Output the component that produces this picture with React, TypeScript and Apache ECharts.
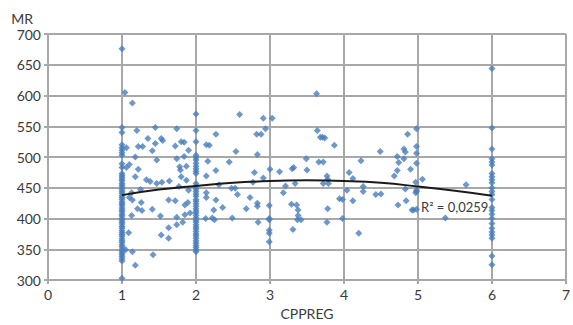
import React, { useEffect, useRef } from "react";
import * as echarts from "echarts";

// x = 1 column (CPPREG = 1)
const col1Values = [303, 331, 334, 338, 341, 344, 347, 350, 354, 357, 361, 364, 367, 371, 374, 377, 380, 384, 387, 391, 394, 397, 400, 404, 407, 411, 414, 417, 421, 424, 427, 431, 434, 437, 441, 444, 447, 451, 454, 457, 461, 464, 467, 470, 473, 483, 489, 503, 507, 511, 515, 520, 540, 548, 676];
// x = 2 column
const col2Values = [346, 349, 353, 356, 360, 364, 368, 372, 375, 379, 383, 386, 390, 394, 397, 401, 405, 409, 412, 416, 420, 424, 428, 431, 436, 440, 444, 448, 452, 457, 473, 477, 481, 485, 490, 495, 499, 503, 525, 543, 570];
// x = 6 column
const col6Values = [325, 339, 368, 373, 378, 384, 392, 400, 407, 413, 418, 431, 439, 444, 450, 458, 463, 468, 473, 487, 492, 497, 513, 547, 644];
// scattered points [CPPREG, MR]
const scatterPoints: [number, number][] = [
  [1.04, 605], [1.14, 588], [1.2, 543], [1.45, 548], [1.74, 546], [1.35, 530], [1.53, 530], [1.55, 527],
  [1.45, 522], [1.72, 518], [1.8, 525], [1.84, 524], [1.06, 515], [1.22, 517], [1.28, 517], [1.9, 511],
  [1.41, 510], [1.18, 500], [1.47, 495], [1.74, 497], [1.84, 501], [1.1, 488], [1.22, 480], [1.06, 483],
  [1.87, 485], [1.78, 484], [1.79, 479], [1.18, 468], [1.8, 468], [1.33, 463], [1.38, 460], [1.54, 459],
  [1.64, 461], [1.47, 457], [1.87, 462], [1.77, 452], [1.9, 446], [1.25, 447], [1.13, 442], [1.1, 434],
  [1.14, 430], [1.63, 430], [1.72, 429], [1.26, 426], [1.89, 426], [1.85, 422], [1.21, 416], [1.27, 413],
  [1.41, 415], [1.13, 405], [1.52, 404], [1.74, 402], [1.85, 406], [1.92, 409], [1.82, 394], [1.74, 390],
  [1.63, 385], [1.09, 377], [1.53, 373], [1.63, 368], [1.05, 349], [1.14, 346], [1.42, 341], [1.18, 324],
  [2.59, 569], [2.91, 563], [3.03, 563], [2.94, 546], [2.27, 537], [2.82, 537], [2.88, 537], [2.14, 520],
  [2.18, 519], [2.54, 509], [2.83, 504], [2.16, 493], [2.45, 492], [3.0, 480], [2.27, 478], [2.79, 475],
  [2.14, 469], [2.91, 466], [2.77, 459], [2.31, 455], [2.48, 449], [2.53, 449], [2.14, 442], [2.56, 439],
  [2.14, 434], [2.73, 434], [2.27, 430], [2.83, 425], [2.83, 420], [2.99, 421], [2.36, 418], [2.68, 416],
  [2.24, 414], [2.13, 400], [2.22, 401], [2.25, 398], [2.49, 401], [2.99, 398], [2.84, 394], [2.99, 381],
  [2.99, 376], [2.99, 362], [2.99, 400],
  [3.63, 603], [3.64, 543], [3.68, 532], [3.74, 531], [3.71, 532], [3.87, 519], [3.49, 497], [3.66, 492],
  [3.72, 492], [3.13, 476], [3.3, 481], [3.32, 483], [3.5, 479], [3.77, 469], [3.78, 464], [3.79, 457],
  [3.72, 457], [3.21, 453], [3.34, 457], [3.18, 442], [3.94, 432], [3.98, 431], [3.29, 423], [3.36, 422],
  [3.38, 414], [3.78, 416], [3.38, 405], [3.37, 398], [3.42, 398], [3.98, 400], [3.77, 394], [3.31, 382],
  [4.98, 546], [4.86, 537], [4.98, 517], [4.81, 513], [4.83, 508], [4.98, 506], [4.49, 509], [4.72, 501],
  [4.81, 497], [4.23, 494], [4.74, 491], [4.98, 490], [4.9, 480], [4.07, 475], [4.72, 478], [4.68, 469],
  [4.12, 465], [4.97, 459], [4.26, 452], [4.04, 446], [4.26, 444], [4.83, 448], [4.98, 446], [4.97, 442],
  [4.43, 439], [4.5, 440], [4.12, 429], [4.84, 429], [4.73, 422], [4.94, 414], [4.98, 415], [4.2, 376],
  [5.06, 464], [5.65, 455], [4.98, 444], [4.92, 414], [5.37, 401]
];
// polynomial trend line
const trendX = [1, 1.5, 2, 2.5, 3, 3.5, 4, 4.5, 5, 5.5, 6];
const trendY = [438, 447, 453, 458, 461, 462, 461, 458, 452, 445, 437];
const xTicks = [0, 1, 2, 3, 4, 5, 6, 7];
const yTicks = [300, 350, 400, 450, 500, 550, 600, 650, 700];
const rSquaredLabel = "R² = 0,0259";

export default function App() {
  const ref = useRef<HTMLDivElement>(null);
  useEffect(() => {
    if (!ref.current) return;
    const chart = echarts.init(ref.current, undefined, { renderer: "svg" });
    const points: [number, number][] = [
      ...col1Values.map((v) => [1, v] as [number, number]),
      ...col2Values.map((v) => [2, v] as [number, number]),
      ...col6Values.map((v) => [6, v] as [number, number]),
      ...scatterPoints,
    ];
    const font = "Lato, 'DejaVu Sans', sans-serif";
    const gridColor = "#a8a8a8";
    const labelColor = "#3a3a3a";
    chart.setOption({
      animation: false,
      backgroundColor: "#ffffff",
      textStyle: { fontFamily: font },
      grid: { left: 48, right: 2, top: 34, bottom: 39 },
      xAxis: {
        type: "value",
        min: xTicks[0],
        max: xTicks[xTicks.length - 1],
        interval: 1,
        name: "CPPREG",
        nameLocation: "middle",
        nameGap: 26,
        nameTextStyle: { color: labelColor, fontSize: 14, fontFamily: font },
        axisLine: { show: true, lineStyle: { color: gridColor, width: 2 } },
        axisTick: { show: true, length: 4, lineStyle: { color: gridColor, width: 2 } },
        axisLabel: { color: labelColor, fontSize: 14, fontFamily: font, margin: 7 },
        splitLine: { show: true, lineStyle: { color: gridColor, width: 2 } },
      },
      yAxis: {
        type: "value",
        min: yTicks[0],
        max: yTicks[yTicks.length - 1],
        interval: 50,
        name: "MR",
        nameLocation: "end",
        nameGap: 9,
        nameTextStyle: { color: labelColor, fontSize: 14, fontFamily: font, align: "right", padding: [0, 15, 0, 0] },
        axisLine: { show: true, lineStyle: { color: gridColor, width: 2 } },
        axisTick: { show: true, length: 4, lineStyle: { color: gridColor, width: 2 } },
        axisLabel: { color: labelColor, fontSize: 14, fontFamily: font, margin: 7 },
        splitLine: { show: true, lineStyle: { color: gridColor, width: 2 } },
      },
      series: [
        {
          type: "scatter",
          data: points,
          symbol: "diamond",
          symbolSize: 7,
          itemStyle: { color: "#4a7ebb" },
        },
        {
          type: "line",
          data: trendX.map((x, i) => [x, trendY[i]]),
          smooth: true,
          symbol: "none",
          lineStyle: { color: "#1a1a1a", width: 2 },
          z: 3,
        },
      ],
      graphic: [
        {
          type: "text",
          left: 421,
          top: 200,
          style: { text: rSquaredLabel, fill: labelColor, fontSize: 13, fontFamily: font },
          z: 10,
        },
      ],
    });
    return () => chart.dispose();
  }, []);
  return <div ref={ref} style={{ position: "fixed", left: 0, top: 0, width: 573, height: 325 }} />;
}
